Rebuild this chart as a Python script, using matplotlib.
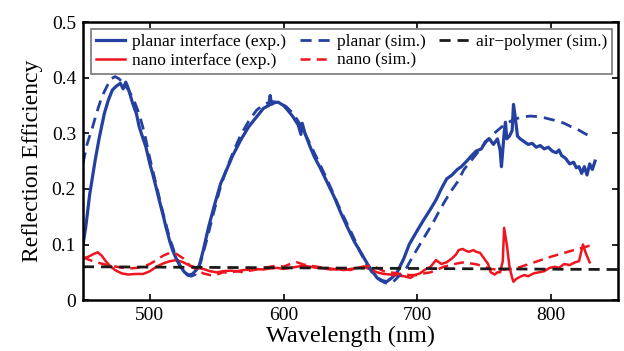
import matplotlib
matplotlib.use("Agg")
import matplotlib.pyplot as plt

plt.rcParams['font.family'] = ['Liberation Serif', 'DejaVu Serif']

# planar interface (exp.)
wl_planar_exp = [450, 452, 455, 459, 462, 466, 469, 472, 475, 478, 480, 482, 484, 487, 490, 492,
                 495, 497, 500, 502, 505, 507, 510, 512, 515, 517, 520, 523, 526, 529, 532, 535,
                 537, 540, 544, 548, 553, 557, 562, 568, 574, 580, 585, 589, 590, 591, 593, 596,
                 600, 603, 607, 611, 613, 614, 616, 620, 623, 628, 633, 638, 643, 648, 653, 658,
                 663, 667, 670, 674, 677, 681, 685, 690, 694, 700, 705, 709, 714, 718, 722, 726,
                 730, 733, 737, 740, 744, 748, 751, 754, 757, 760, 762, 763, 765, 766, 767, 769,
                 771, 772, 773, 775, 777, 780, 783, 786, 789, 792, 795, 798, 801, 804, 806, 808,
                 811, 814, 817, 819, 821, 823, 825, 827, 829, 831, 833]
r_planar_exp = [0.10, 0.13, 0.19, 0.25, 0.29, 0.336, 0.36, 0.378, 0.385, 0.39, 0.38, 0.392, 0.38, 0.355, 0.335, 0.312,
                0.29, 0.276, 0.245, 0.228, 0.2, 0.18, 0.152, 0.132, 0.105, 0.09, 0.073, 0.06, 0.05, 0.045, 0.047, 0.055,
                0.062, 0.09, 0.132, 0.168, 0.21, 0.232, 0.26, 0.288, 0.312, 0.33, 0.345, 0.35, 0.368, 0.352, 0.355, 0.356,
                0.35, 0.342, 0.33, 0.315, 0.298, 0.318, 0.3, 0.275, 0.258, 0.235, 0.21, 0.185, 0.156, 0.13, 0.105, 0.085,
                0.064, 0.05, 0.04, 0.035, 0.033, 0.04, 0.05, 0.075, 0.1, 0.125, 0.145, 0.16, 0.18, 0.2, 0.218, 0.225,
                0.235, 0.24, 0.25, 0.258, 0.268, 0.272, 0.285, 0.29, 0.28, 0.29, 0.27, 0.24, 0.3, 0.32, 0.29, 0.295,
                0.305, 0.352, 0.335, 0.295, 0.29, 0.285, 0.28, 0.282, 0.275, 0.278, 0.272, 0.275, 0.268, 0.265, 0.27, 0.26,
                0.255, 0.245, 0.248, 0.238, 0.24, 0.228, 0.24, 0.225, 0.245, 0.235, 0.25]

# planar (sim.)
wl_planar_sim = [450, 453, 457, 460, 464, 468, 471, 474, 477, 480, 484, 488, 492, 496, 500, 505,
                 510, 515, 520, 524, 528, 531, 534, 538, 543, 548, 553, 558, 563, 568, 574, 580,
                 586, 592, 597, 602, 607, 612, 617, 622, 627, 632, 637, 642, 647, 652, 657, 662,
                 667, 672, 676, 679, 683, 687, 692, 697, 702, 707, 712, 716, 720, 725, 730, 735,
                 740, 745, 750, 755, 760, 765, 770, 775, 780, 785, 790, 795, 800, 805, 810, 815,
                 820, 825, 829]
r_planar_sim = [0.246, 0.28, 0.31, 0.335, 0.365, 0.385, 0.398, 0.402, 0.398, 0.39, 0.378, 0.36, 0.335, 0.3, 0.255, 0.205,
                0.155, 0.11, 0.075, 0.055, 0.045, 0.043, 0.046, 0.068, 0.112, 0.16, 0.205, 0.24, 0.27, 0.297, 0.322, 0.342,
                0.353, 0.357, 0.355, 0.348, 0.336, 0.318, 0.295, 0.27, 0.245, 0.22, 0.193, 0.165, 0.14, 0.115, 0.088, 0.065,
                0.047, 0.036, 0.031, 0.03, 0.035, 0.045, 0.058, 0.08, 0.1, 0.12, 0.14, 0.158, 0.175, 0.195, 0.212, 0.235,
                0.25, 0.265, 0.28, 0.295, 0.305, 0.315, 0.322, 0.327, 0.33, 0.331, 0.33, 0.328, 0.325, 0.322, 0.318, 0.312,
                0.307, 0.3, 0.295]

# nano interface (exp.)
wl_nano_exp = [450, 454, 458, 461, 464, 467, 470, 474, 479, 484, 489, 495, 500, 505, 510, 515,
               520, 525, 530, 535, 540, 545, 550, 555, 560, 565, 570, 575, 580, 585, 590, 595,
               600, 605, 610, 615, 620, 625, 630, 635, 640, 645, 650, 655, 660, 665, 670, 675,
               680, 685, 690, 695, 698, 702, 706, 710, 714, 718, 722, 726, 729, 731, 734, 737,
               739, 742, 744, 747, 750, 753, 755, 758, 760, 762, 764, 765, 767, 769, 771, 772,
               774, 777, 780, 783, 787, 791, 795, 799, 803, 806, 810, 814, 818, 821, 824, 826, 829]
r_nano_exp = [0.075, 0.078, 0.083, 0.086, 0.08, 0.07, 0.062, 0.054, 0.048, 0.046, 0.047, 0.047, 0.052, 0.06, 0.066, 0.07,
              0.072, 0.068, 0.062, 0.058, 0.056, 0.052, 0.05, 0.052, 0.053, 0.052, 0.054, 0.055, 0.056, 0.055, 0.057, 0.058,
              0.056, 0.058, 0.06, 0.062, 0.06, 0.058, 0.057, 0.055, 0.056, 0.054, 0.056, 0.058, 0.06, 0.055, 0.05, 0.047,
              0.046, 0.044, 0.043, 0.04, 0.045, 0.048, 0.055, 0.06, 0.072, 0.065, 0.068, 0.075, 0.082, 0.09, 0.092, 0.088,
              0.087, 0.09, 0.087, 0.085, 0.075, 0.065, 0.05, 0.046, 0.05, 0.05, 0.07, 0.13, 0.1, 0.06, 0.04, 0.033,
              0.038, 0.042, 0.045, 0.043, 0.048, 0.05, 0.052, 0.058, 0.06, 0.058, 0.065, 0.063, 0.068, 0.07, 0.1, 0.085, 0.068]

# nano (sim.)
wl_nano_sim = [450, 455, 460, 465, 470, 475, 480, 485, 490, 495, 500, 505, 510, 515, 520, 525,
               530, 535, 540, 545, 550, 555, 560, 565, 570, 575, 580, 585, 590, 595, 600, 605,
               610, 615, 620, 625, 630, 635, 640, 645, 650, 655, 660, 665, 670, 675, 680, 685,
               690, 695, 700, 705, 710, 715, 720, 725, 730, 735, 740, 745, 750, 755, 760, 765,
               770, 775, 780, 790, 800, 810, 820, 825, 829]
r_nano_sim = [0.077, 0.072, 0.068, 0.065, 0.062, 0.06, 0.058, 0.057, 0.058, 0.06, 0.065, 0.072, 0.08, 0.085, 0.083, 0.075,
              0.062, 0.055, 0.048, 0.045, 0.046, 0.05, 0.049, 0.052, 0.05, 0.053, 0.055, 0.058, 0.06, 0.062, 0.06, 0.065,
              0.068, 0.064, 0.062, 0.06, 0.058, 0.057, 0.055, 0.056, 0.054, 0.058, 0.06, 0.062, 0.058, 0.052, 0.05, 0.048,
              0.046, 0.045, 0.045, 0.048, 0.05, 0.055, 0.06, 0.063, 0.066, 0.068, 0.066, 0.064, 0.06, 0.056, 0.055, 0.055,
              0.056, 0.058, 0.062, 0.07, 0.078, 0.085, 0.092, 0.095, 0.098]

# air-polymer (sim.)
wl_air = [450, 850]
r_air = [0.060, 0.055]

xticks = [500, 600, 700, 800]
yticks = [0, 0.1, 0.2, 0.3, 0.4, 0.5]
ytick_labels = ['0', '0.1', '0.2', '0.3', '0.4', '0.5']

blue = '#2440a0'
red = '#f0141e'

fig = plt.figure(figsize=(6.24, 3.51), dpi=100)
ax = fig.add_axes([0.133, 0.145, 0.857, 0.792])

ax.plot(wl_planar_exp, r_planar_exp, '-', color=blue, lw=2.3, label='planar interface (exp.)')
ax.plot(wl_nano_exp, r_nano_exp, '-', color=red, lw=1.8, label='nano interface (exp.)')
ax.plot(wl_planar_sim, r_planar_sim, '--', color=blue, lw=2.0, dashes=(4, 2.5), label='planar (sim.)')
ax.plot(wl_nano_sim, r_nano_sim, '--', color=red, lw=1.8, dashes=(4, 2.5), label='nano (sim.)')
ax.plot(wl_air, r_air, '--', color='#1a1a1a', lw=2.0, dashes=(4, 2.5), label='air\u2212polymer (sim.)')

ax.set_xlim(450, 850)
ax.set_ylim(0, 0.5)
ax.set_xticks(xticks)
ax.set_yticks(yticks)
ax.set_yticklabels(ytick_labels)
ax.tick_params(direction='in', top=True, right=True, labelsize=14, length=4, width=1.2, pad=5)
for s in ax.spines.values():
    s.set_linewidth(1.8)

ax.set_xlabel('Wavelength (nm)', fontsize=17.5, labelpad=1)
ax.set_ylabel('Reflection Efficiency', fontsize=17, labelpad=6)

leg = ax.legend(loc='upper center', ncol=3, fontsize=12.5, frameon=True, fancybox=False,
                edgecolor='#555555', handlelength=1.7, handletextpad=0.4, columnspacing=0.8,
                borderpad=0.3, labelspacing=0.12, borderaxespad=0,
                bbox_to_anchor=(0.502, 0.975))
leg.get_frame().set_linewidth(1.2)

fig.savefig('out.png', dpi=100)
